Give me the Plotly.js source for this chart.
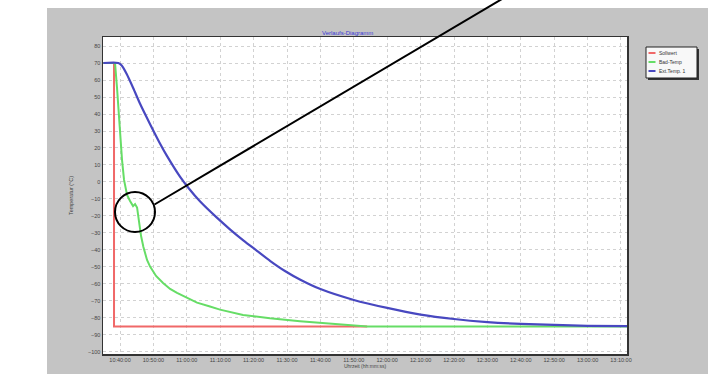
<!DOCTYPE html>
<html>
<head>
<meta charset="utf-8">
<script src="https://cdn.plot.ly/plotly-3.0.1.min.js"></script>
<style>html,body{margin:0;padding:0;background:#c4c4c4;overflow:hidden;}#chart{width:708px;height:374px;}</style>
</head>
<body>
<div id="chart"></div>
<script>
// ---- data ----
const DAY = '2000-01-01 ';
const sollTimes = ['10:35:00','10:38:12','10:38:12','11:54:00'];
const sollwert  = [70, 70, -85, -85];

const badTimes = ['10:35:00','10:38:30','10:39:06','10:40:00','10:40:36','10:41:12','10:42:06','10:43:00','10:43:54','10:44:30','10:45:06','10:45:42','10:46:18','10:47:00','10:48:05','10:49:00','10:50:47','10:52:53','10:55:00','10:57:04','11:00:04','11:03:03','11:06:56','11:09:56','11:16:50','11:24:55','11:33:53','11:39:53','11:47:22','11:54:00','13:12:00'];
const badTemp  = [70, 70, 55.3, 25.9, 12.9, 1.2, -7.6, -11.2, -14.2, -13.0, -15.0, -23.5, -31.8, -38.2, -45.9, -49.8, -55.3, -59.4, -62.9, -65.3, -68.2, -71.0, -73.3, -75.1, -78.2, -80.2, -81.9, -82.9, -84.3, -85, -85];

const extTimes = ['10:35:00','10:39:30','10:40:30','10:42:00','10:44:00','10:46:00','10:49:00','10:52:00','10:54:00','10:58:00','11:00:30','11:04:00','11:09:00','11:13:00','11:17:00','11:21:00','11:25:00','11:29:30','11:34:00','11:40:00','11:50:00','12:00:00','12:10:00','12:20:00','12:30:00','12:40:00','12:50:00','13:00:00','13:12:00'];
const extTemp  = [70, 70, 68.5, 63.5, 55, 46, 34, 22.5, 15.5, 3, -3.5, -11.5, -21, -28, -34.5, -40.5, -46.5, -52.5, -57.5, -63, -69.4, -74.1, -78, -80.6, -82.4, -83.5, -84.1, -84.6, -84.8];

const seriesNames = ['Sollwert', 'Bad-Temp', 'Ext.Temp. 1'];
const seriesColors = ['#f06868', '#66dd66', '#4848c0'];
const chartTitle = 'Verlaufs-Diagramm';
const xTitle = 'Uhrzeit (hh:mm:ss)';
const yTitle = 'Temperatur (°C)';

// ---- layout helpers (pixel -> paper) ----
const W = 708, H = 374;
const L = 103, R = 627, T = 37, B = 354;
const px = x => (x - L) / (R - L);
const py = y => (B - y) / (B - T);
const FONT = 'Liberation Sans, Arial, sans-serif';
const GREY = '#c4c4c4';

const toDates = arr => arr.map(t => DAY + t);

const traces = [
  {x: toDates(sollTimes), y: sollwert, name: seriesNames[0], mode: 'lines', line: {color: seriesColors[0], width: 2}},
  {x: toDates(badTimes), y: badTemp, name: seriesNames[1], mode: 'lines', line: {color: seriesColors[1], width: 2}},
  {x: toDates(extTimes), y: extTemp, name: seriesNames[2], mode: 'lines', line: {color: seriesColors[2], width: 2.2, shape: 'spline', smoothing: 0.6}}
];

const shapes = [
  // white margins outside the grey panel
  {type:'rect', xref:'paper', yref:'paper', x0: px(-5), x1: px(47), y0: py(380), y1: py(-5), fillcolor:'#ffffff', line:{width:0}, layer:'below'},
  {type:'rect', xref:'paper', yref:'paper', x0: px(-5), x1: px(712), y0: py(8), y1: py(-5), fillcolor:'#ffffff', line:{width:0}, layer:'below'},
  // grey strip at far right
  {type:'rect', xref:'paper', yref:'paper', x0: px(680), x1: px(712), y0: py(380), y1: py(8), fillcolor: GREY, line:{width:0}},
  // highlight circle + pointer line
  {type:'circle', xref:'paper', yref:'paper', x0: px(115), x1: px(155), y0: py(232), y1: py(192), line:{color:'#000', width:2}},
  {type:'line', xref:'paper', yref:'paper', x0: px(154.5), y0: py(204.5), x1: px(502), y1: py(-1), line:{color:'#000', width:2}},
  // legend box with shadow
  {type:'rect', xref:'paper', yref:'paper', x0: px(648), x1: px(699), y0: py(80), y1: py(49), fillcolor:'#333', line:{width:0}},
  {type:'rect', xref:'paper', yref:'paper', x0: px(646), x1: px(697), y0: py(78), y1: py(47), fillcolor:'#f8f8f8', line:{color:'#222', width:1}}
];
const annotations = [
  {text: chartTitle, xref:'paper', yref:'paper', x: px(347), y: py(28), showarrow:false, font:{family: FONT, size: 6, color:'#3b3bd6'}}
];
const rowsY = [53, 62, 71];
seriesNames.forEach((n, i) => {
  shapes.push({type:'line', xref:'paper', yref:'paper', x0: px(648.5), x1: px(655.5), y0: py(rowsY[i]), y1: py(rowsY[i]), line:{color: seriesColors[i], width: 2}});
  annotations.push({text: n, xref:'paper', yref:'paper', x: px(657), y: py(rowsY[i]), xanchor:'left', yanchor:'middle', showarrow:false, font:{family: FONT, size: 5, color:'#333'}});
});

const layout = {
  width: W, height: H,
  autosize: false,
  margin: {l: L, r: W - R, t: T, b: H - B, pad: 0},
  paper_bgcolor: GREY,
  plot_bgcolor: '#ffffff',
  showlegend: false,
  font: {family: FONT, size: 5.5, color: '#444'},
  xaxis: {
    type: 'date',
    range: [DAY + '10:34:54', DAY + '13:11:48'],
    tick0: DAY + '10:40:00', dtick: 600000,
    tickformat: '%H:%M:%S',
    tickfont: {family: FONT, size: 5.5, color: '#444'},
    showgrid: true, gridcolor: '#d2d2d2', griddash: 'dot', gridwidth: 1,
    showline: true, linecolor: '#333', linewidth: 1.5, mirror: true,
    ticks: '', zeroline: false,
    title: {text: xTitle, standoff: 2, font: {family: FONT, size: 5, color: '#444'}}
  },
  yaxis: {
    range: [-101.2, 85.3],
    tick0: 0, dtick: 10,
    tickfont: {family: FONT, size: 5.5, color: '#444'},
    showgrid: true, gridcolor: '#d2d2d2', griddash: 'dot', gridwidth: 1,
    showline: true, linecolor: '#333', linewidth: 1.5, mirror: true,
    ticks: '', zeroline: false,
    title: {text: yTitle, standoff: 14, font: {family: FONT, size: 5.5, color: '#444'}}
  },
  shapes: shapes,
  annotations: annotations
};

Plotly.newPlot('chart', traces, layout, {displayModeBar: false, staticPlot: true});
</script>
</body>
</html>
